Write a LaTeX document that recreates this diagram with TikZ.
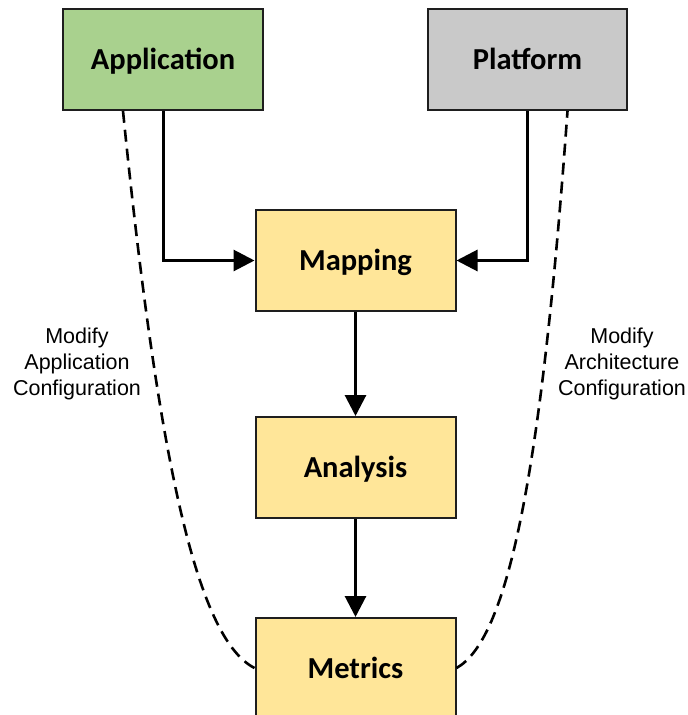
\documentclass[tikz,border=0pt]{standalone}
\usepackage{fontspec}
\setmainfont{Liberation Sans}
\newfontfamily\boxfont{Carlito}
\usetikzlibrary{arrows.meta}

\definecolor{appgreen}{HTML}{A9D18E}
\definecolor{platgray}{HTML}{C9C9C9}
\definecolor{stageyellow}{HTML}{FFE699}
\definecolor{edgeink}{HTML}{1E1E1E}

\tikzset{
  stage/.style={draw=edgeink, line width=2pt, inner sep=0pt,
    minimum width=200pt, minimum height=101pt,
    text height=20pt, text depth=0pt,
    font=\boxfont\bfseries\fontsize{30.5}{36}\selectfont, text=black},
  flow/.style={line width=3pt, draw=black,
    -{Triangle[length=21pt,width=21pt]}},
  loopback/.style={line width=2.6pt, draw=black, dash pattern=on 12pt off 7pt},
  note/.style={align=center, inner sep=0pt,
    font=\fontsize{21.5}{26}\selectfont, text=black}
}

\begin{document}
\begin{tikzpicture}[x=1pt,y=-1pt]
  \useasboundingbox (0,0) rectangle (688,715);
  \clip (0,0) rectangle (688,715);

  % inputs
  \node[stage, fill=appgreen]  (app)  at (163,59.5)   {Application};
  \node[stage, fill=platgray, minimum width=199pt] (plat) at (527.5,59.5) {Platform};

  % processing chain
  \node[stage, fill=stageyellow] (map) at (355.5,260.5) {Mapping};
  \node[stage, fill=stageyellow] (ana) at (355.5,467.5) {Analysis};
  \node[stage, fill=stageyellow, minimum height=100pt] (met) at (355.5,668) {Metrics};

  % data flow
  \draw[flow] (app.south) -- (app.south |- map.west) -- (map.west);
  \draw[flow] (plat.south) -- (plat.south |- map.east) -- (map.east);
  \draw[flow] (map.south) -- (ana.north);
  \draw[flow] (ana.south) -- (met.north);

  % feedback loops
  \coordinate (appfoot) at ([xshift=-40pt]app.south);
  \coordinate (platfoot) at ([xshift=40pt]plat.south);
  \draw[loopback] (met.west) .. controls (200,640) and (160,480) .. (appfoot);
  \draw[loopback] (met.east) .. controls (507,640) and (541,480) .. (platfoot);

  \node[note] (modapp)  at (77,364)  {Modify\\Application\\Configuration};
  \node[note] (modarch) at (622,364) {Modify\\Architecture\\Configuration};
\end{tikzpicture}
\end{document}
